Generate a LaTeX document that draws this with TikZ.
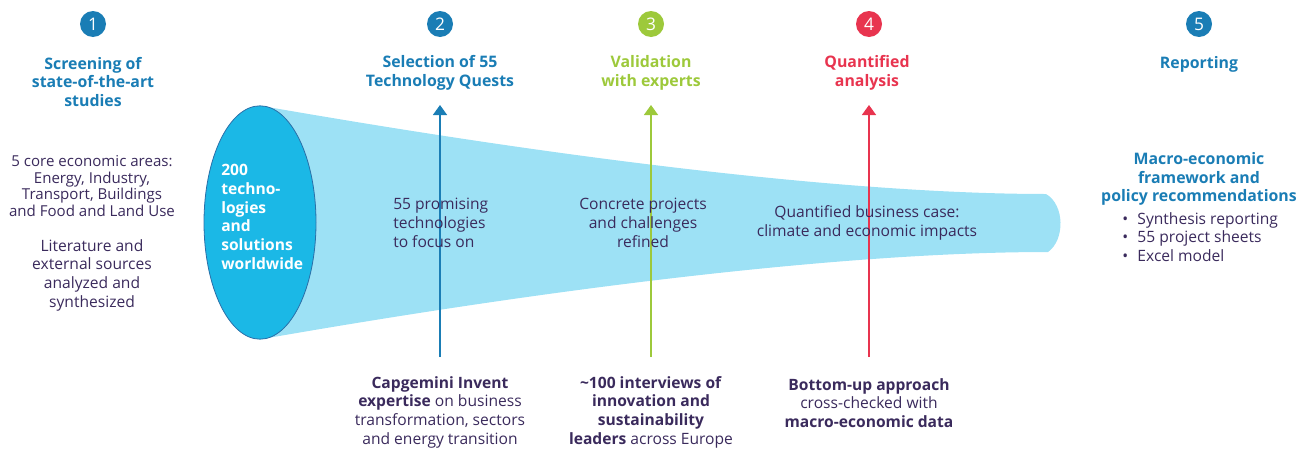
\documentclass[tikz,border=0pt]{standalone}
\usepackage{fontspec}
\setmainfont{Open Sans}
\usetikzlibrary{shapes.geometric,arrows.meta}
\definecolor{cblue}{HTML}{1A7DB5}
\definecolor{cgreen}{HTML}{9DC93B}
\definecolor{cred}{HTML}{E8344F}
\definecolor{ccyan}{HTML}{1BB8E6}
\definecolor{cfunnel}{HTML}{9DE1F5}
\definecolor{ctext}{HTML}{3A2A5C}
\definecolor{cedge}{HTML}{2A6FA8}
\tikzset{
  num/.style={circle,minimum size=19.5pt,inner sep=0pt,text=white,font=\fontsize{13}{13}\selectfont},
  ttl/.style={align=center,font=\fontsize{11.9}{13.9}\selectfont\bfseries,inner sep=0pt},
  body/.style={align=center,text=ctext,font=\fontsize{11.3}{12.6}\selectfont,inner sep=0pt},
  bodyl/.style={align=center,text=ctext,font=\fontsize{11.7}{14}\selectfont,inner sep=0pt},
  arr/.style={line width=1.1pt,-{Triangle[width=10.5pt,length=7.5pt]}},
}
\begin{document}
\begin{tikzpicture}[x=0.75pt,y=-0.75pt]
\useasboundingbox (0,0) rectangle (1304,450);
% funnel
\fill[cfunnel] (262,106) .. controls (600,165) and (870,194) .. (1046,194)
  .. controls (1065,205) and (1065,240) .. (1048,252)
  .. controls (870,252) and (600,280) .. (262,339) -- cycle;
\node[ellipse,draw=cedge,line width=0.6pt,fill=ccyan,minimum width=84pt,minimum height=175pt,inner sep=0pt] (ell) at (260,222.5) {};
\node[anchor=west,align=left,text=white,font=\fontsize{11.7}{14}\selectfont\bfseries,inner sep=0pt] (elltxt) at (221,217) {200\\techno-\\logies\\and\\solutions\\worldwide};
% numbers
\node[num,fill=cblue] (n1) at (93,24) {1};
\node[num,fill=cblue] (n2) at (440,24) {2};
\node[num,fill=cgreen] (n3) at (651,24) {3};
\node[num,fill=cred] (n4) at (869,24) {4};
\node[num,fill=cblue] (n5) at (1199,24) {5};
% titles
\node[ttl,text=cblue] (t1) at (93,82) {Screening of\\state-of-the-art\\studies};
\node[ttl,text=cblue] (t2) at (440,73) {Selection of 55\\Technology Quests};
\node[ttl,text=cgreen] (t3) at (651,73) {Validation\\with experts};
\node[ttl,text=cred] (t4) at (867,73) {Quantified\\analysis};
\node[ttl,text=cblue] (t5) at (1199,64) {Reporting};
% left texts
\node[body] (l1) at (92,186) {5 core economic areas:\\Energy, Industry,\\Transport, Buildings\\and Food and Land Use};
\node[bodyl] (l2) at (92,275) {Literature and\\external sources\\analyzed and\\synthesized};
% arrows
\coordinate (a2s) at (440,357); \coordinate (a2e) at (440,105);
\coordinate (a3s) at (651,357); \coordinate (a3e) at (651,105);
\coordinate (a4s) at (869,357); \coordinate (a4e) at (869,105);
\draw[arr,draw=cblue,fill=cblue] (a2s) -- (a2e);
\draw[arr,draw=cgreen,fill=cgreen] (a3s) -- (a3e);
\draw[arr,draw=cred,fill=cred] (a4s) -- (a4e);
% funnel texts
\node[bodyl,anchor=west,align=left] (f2) at (393,223) {55 promising\\technologies\\to focus on};
\node[bodyl] (f3) at (643,223) {Concrete projects\\and challenges\\refined};
\node[bodyl] (f4) at (867,223) {Quantified business case:\\climate and economic impacts};
% right
\node[ttl,text=cblue] (r1) at (1199,179) {Macro-economic\\framework and\\policy recommendations};
\node[bodyl,anchor=west,align=left] (r2) at (1122,237) {\textbullet\hspace{7pt}Synthesis reporting\\\textbullet\hspace{7pt}55 project sheets\\\textbullet\hspace{7pt}Excel model};
% bottom
\node[bodyl] (b2) at (440,412) {\textbf{Capgemini Invent}\\\textbf{expertise} on business\\transformation, sectors\\and energy transition};
\node[bodyl] (b3) at (651,412) {\textbf{\textasciitilde100 interviews of}\\\textbf{innovation and}\\\textbf{sustainability}\\\textbf{leaders} across Europe};
\node[bodyl] (b4) at (869,403) {\textbf{Bottom-up approach}\\cross-checked with\\\textbf{macro-economic data}};
\end{tikzpicture}
\end{document}
